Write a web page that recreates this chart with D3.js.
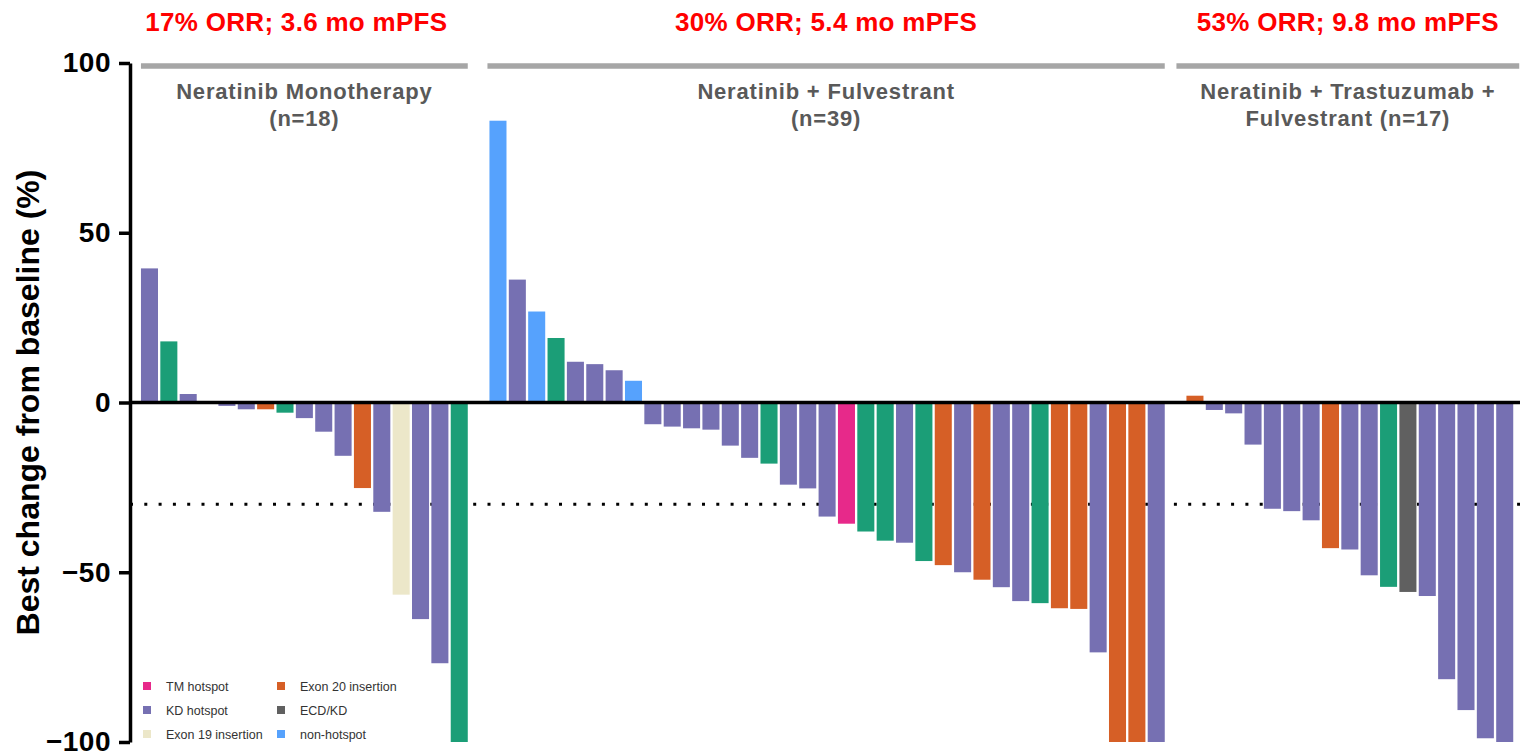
<!DOCTYPE html>
<html>
<head>
<meta charset="utf-8">
<script src="https://cdn.jsdelivr.net/npm/d3@7"></script>
<style>
  body { margin: 0; background: #fff; }
  svg { display: block; font-family: "Liberation Sans", Arial, sans-serif; }
</style>
</head>
<body>
<svg id="chart"></svg>
<script>
// best change from baseline (%) per patient, sorted within each cohort
const monoValues = [39.5, 18, 2.5, 0, -1, -2, -2, -3, -4.6, -8.6, -15.7, -25.2, -32.2, -56.6, -63.8, -76.8, -100];
const monoTypes = ["KD", "GR", "KD", "KD", "KD", "KD", "Ex20", "GR", "KD", "KD", "KD", "Ex20", "KD", "Ex19", "KD", "KD", "GR"];

const fulvValues = [83, 36.2, 26.8, 19, 12, 11.3, 9.5, 6.4, -6.4, -7.1, -7.6, -8, -12.7, -16.3, -18, -24.2, -25.3, -33.6,
  -35.7, -38, -40.7, -41.3, -46.7, -47.9, -50, -52.2, -54.4, -58.5, -59.1, -60.6, -60.8, -73.6, -100, -100, -100];
const fulvTypes = ["NH", "KD", "NH", "GR", "KD", "KD", "KD", "NH", "KD", "KD", "KD", "KD", "KD", "KD", "GR", "KD", "KD", "KD",
  "TM", "GR", "GR", "KD", "GR", "Ex20", "KD", "Ex20", "KD", "KD", "GR", "Ex20", "Ex20", "KD", "Ex20", "Ex20", "KD"];

const trasValues = [2, -2.2, -3.2, -12.4, -31.3, -32, -34.7, -42.9, -43.3, -50.9, -54.3, -55.8, -57, -81.5, -90.6, -98.9, -100];
const trasTypes = ["Ex20", "KD", "KD", "KD", "KD", "KD", "KD", "Ex20", "KD", "KD", "GR", "ECD", "KD", "KD", "KD", "KD", "KD"];

const cohortLines = [["Neratinib Monotherapy", "(n=18)"], ["Neratinib + Fulvestrant", "(n=39)"], ["Neratinib + Trastuzumab +", "Fulvestrant (n=17)"]];
const outcomes = ["17% ORR; 3.6 mo mPFS", "30% ORR; 5.4 mo mPFS", "53% ORR; 9.8 mo mPFS"];

const legendKeys = ["TM", "KD", "Ex19", "Ex20", "ECD", "NH"];
const legendLabels = ["TM hotspot", "KD hotspot", "Exon 19 insertion", "Exon 20 insertion", "ECD/KD", "non-hotspot"];
const yTicks = [100, 50, 0, -50, -100];
const threshold = -30;

const colors = {
  TM: "#e7298a", KD: "#7670b2", Ex19: "#ece7c9", Ex20: "#d65f26",
  ECD: "#606060", NH: "#56a2fd", GR: "#1b9e77"
};

const width = 1520, height = 755;
const svg = d3.select("#chart").attr("width", width).attr("height", height);

// one list of slots, with an empty slot between cohorts
const groups = [
  monoValues.map((v, i) => ({ id: "m" + i, value: v, type: monoTypes[i] })),
  fulvValues.map((v, i) => ({ id: "f" + i, value: v, type: fulvTypes[i] })),
  trasValues.map((v, i) => ({ id: "t" + i, value: v, type: trasTypes[i] }))
];
const slots = [];
groups.forEach((g, i) => {
  g.forEach(d => slots.push(d.id));
  if (i < groups.length - 1) slots.push("gap" + i);
});
const bars = groups.flat();

const x = d3.scaleBand().domain(slots).range([139.8, 1514.4]).paddingInner(0.12).paddingOuter(0.06);
const y = d3.scaleLinear().domain([-100, 100]).range([742, 63]);

// threshold dotted line
svg.append("line")
  .attr("x1", 130).attr("x2", width)
  .attr("y1", y(threshold)).attr("y2", y(threshold))
  .attr("stroke", "#000").attr("stroke-width", 3)
  .attr("stroke-dasharray", "3,11.3");

svg.selectAll(".bar")
  .data(bars)
  .enter()
  .append("rect")
  .attr("class", "bar")
  .attr("x", d => x(d.id))
  .attr("width", x.bandwidth())
  .attr("y", d => y(Math.max(0, d.value)))
  .attr("height", d => Math.abs(y(d.value) - y(0)))
  .attr("fill", d => colors[d.type]);

// zero line
svg.append("line")
  .attr("x1", 130).attr("x2", width)
  .attr("y1", y(0)).attr("y2", y(0))
  .attr("stroke", "#000").attr("stroke-width", 3.5);

// y axis
const yAxis = d3.axisLeft(y).tickValues(yTicks).tickSize(11).tickPadding(8).tickSizeOuter(0);
const ya = svg.append("g").attr("transform", "translate(130,0)").call(yAxis);
ya.select(".domain").attr("stroke-width", 3.5);
ya.selectAll(".tick line").attr("stroke-width", 3.5);
ya.selectAll(".tick text")
  .attr("font-family", "'Liberation Sans', Arial, sans-serif")
  .attr("font-size", 28).attr("font-weight", "bold").attr("fill", "#000")
  .attr("letter-spacing", 0.5);

svg.append("text")
  .attr("transform", `translate(39,${y(0)}) rotate(-90)`)
  .attr("text-anchor", "middle")
  .attr("font-size", 32).attr("font-weight", "bold")
  .text("Best change from baseline (%)");

// cohort headers
const pads = [[0, 0], [2, 0], [10, 6]];
const redShift = [-8, 0, 0];
groups.forEach((g, i) => {
  const x0 = x(g[0].id) - pads[i][0];
  const x1 = x(g[g.length - 1].id) + x.bandwidth() + pads[i][1];
  const cx = (x0 + x1) / 2;
  svg.append("line")
    .attr("x1", x0).attr("x2", x1).attr("y1", 66).attr("y2", 66)
    .attr("stroke", "#a6a6a6").attr("stroke-width", 5.5);
  svg.append("text")
    .attr("x", cx + redShift[i]).attr("y", 31)
    .attr("text-anchor", "middle")
    .attr("font-size", 26).attr("font-weight", "bold").attr("fill", "#ff0000")
    .attr("letter-spacing", 0.3)
    .text(outcomes[i]);
  cohortLines[i].forEach((t, j) => {
    svg.append("text")
      .attr("x", cx).attr("y", 99 + j * 27)
      .attr("text-anchor", "middle")
      .attr("font-size", 22).attr("font-weight", "bold").attr("fill", "#595959")
      .attr("letter-spacing", 0.8)
      .text(t);
  });
});

// legend
const legend = svg.append("g").attr("transform", "translate(143,686)");
legendKeys.forEach((k, i) => {
  const col = Math.floor(i / 3), row = i % 3;
  const g = legend.append("g").attr("transform", `translate(${col * 134},${row * 24})`);
  g.append("rect").attr("x", 0).attr("y", -4).attr("width", 8).attr("height", 8).attr("fill", colors[k]);
  g.append("text").attr("x", 23).attr("y", 4.5)
    .attr("font-size", 12.5).attr("fill", "#333")
    .text(legendLabels[i]);
});
</script>
</body>
</html>
